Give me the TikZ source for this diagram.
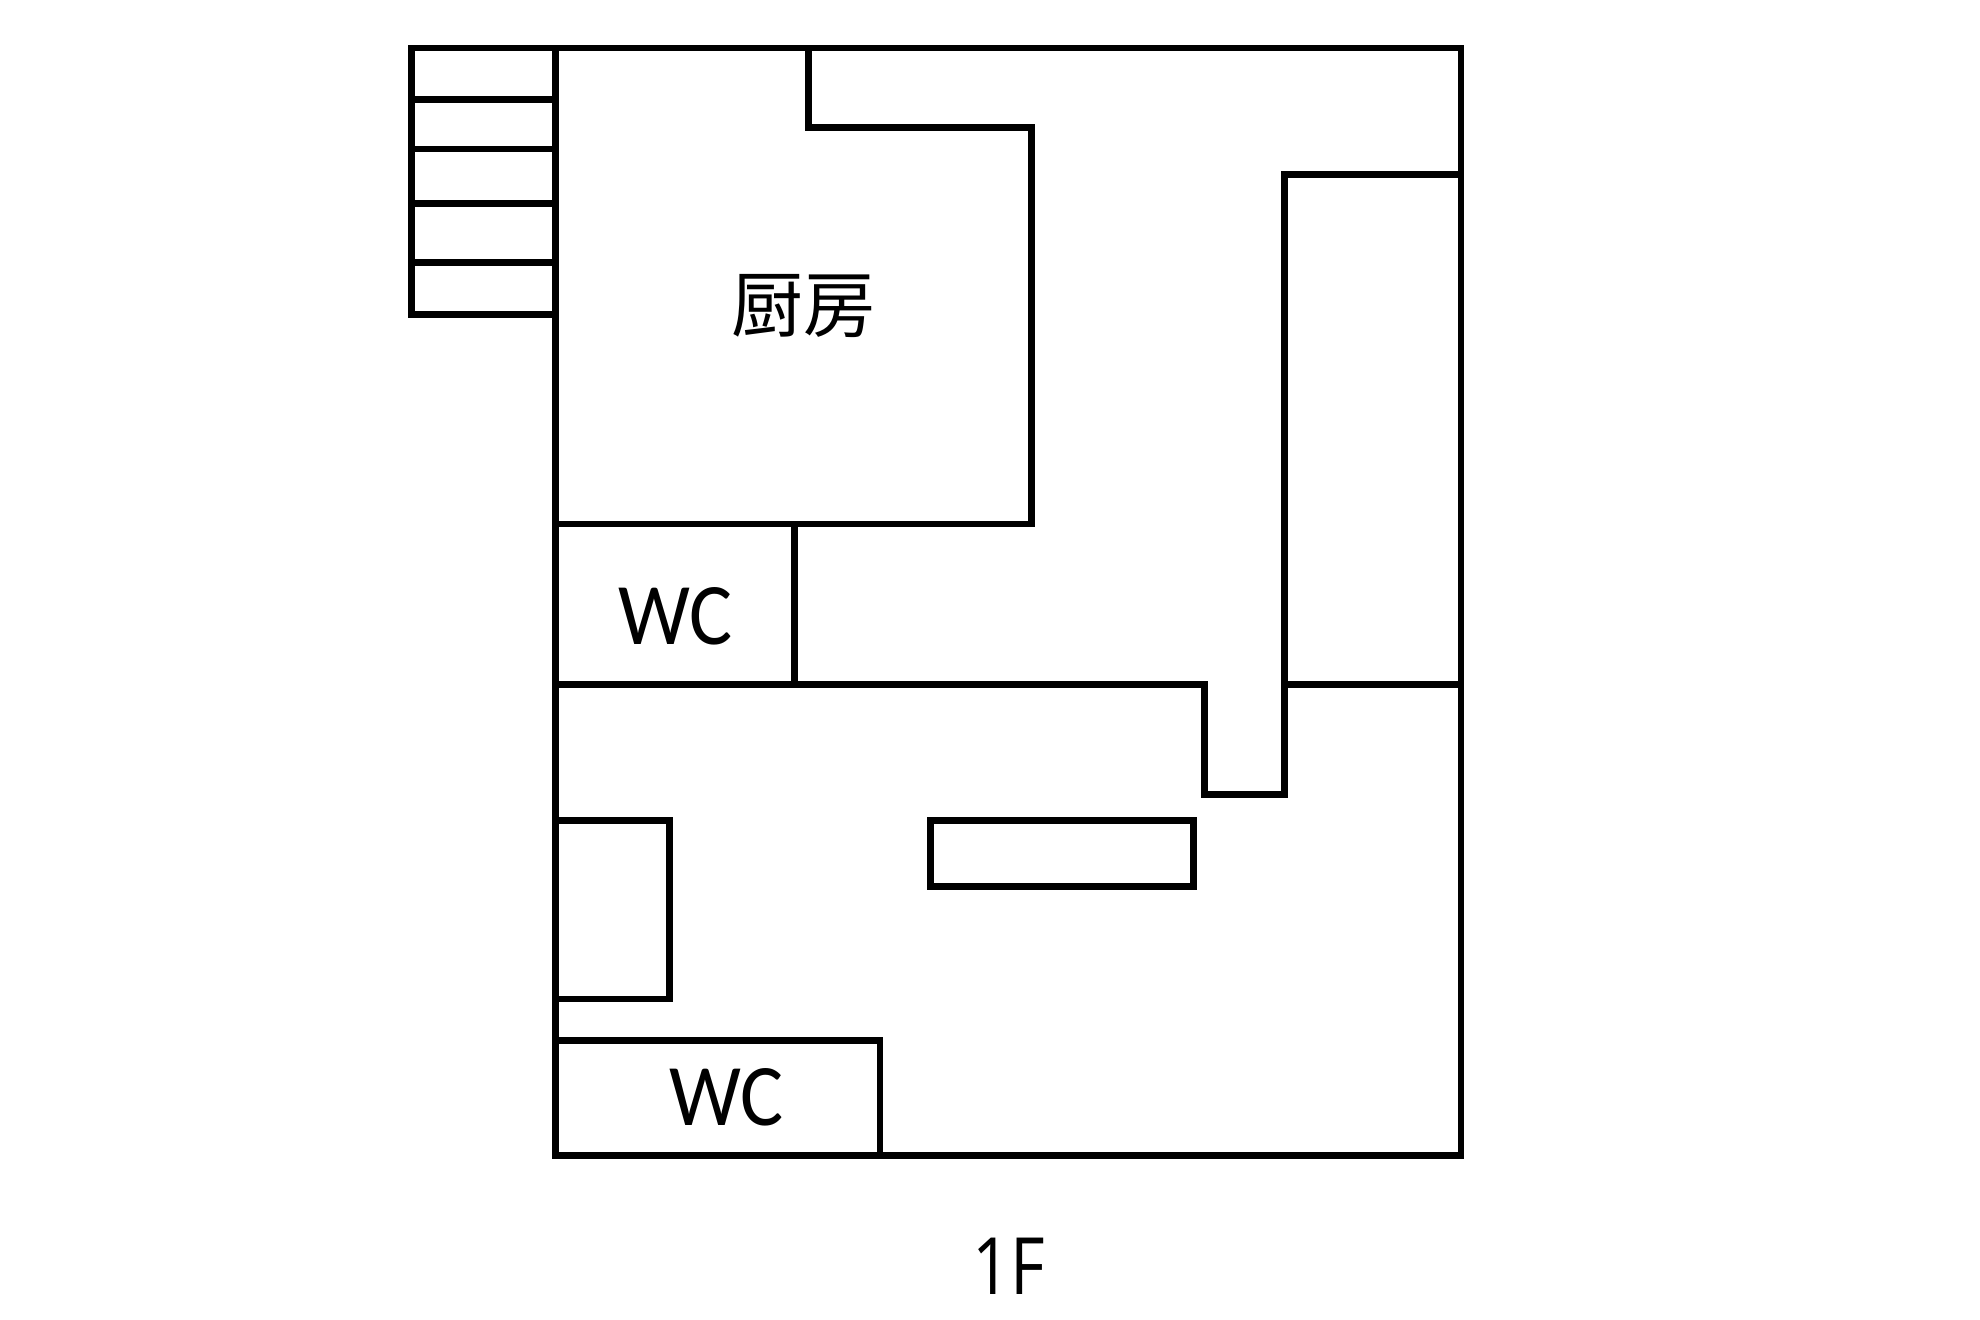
\documentclass[tikz,border=0pt]{standalone}
\usepackage{fontspec}
\setmainfont{Carlito}
\newfontfamily\cjk{Noto Sans CJK JP}
\newfontfamily\floorfont{Open Sans}
\begin{document}
\begin{tikzpicture}[x=0.012628cm, y=-0.012628cm,
	wall/.style={line width=1.9pt, line cap=rect},
	roomlabel/.style={inner sep=0pt, xscale=0.92, font=\fontsize{25}{25}\selectfont}]
	\useasboundingbox (0, 0) rectangle (1568, 1045.3);

	% outer walls
	\draw[wall] (440, 38) rectangle (1157, 915);

	% stairs
	\draw[wall] (326, 38) -- (440, 38);
	\draw[wall] (326, 79) -- (440, 79);
	\draw[wall] (326, 118) -- (440, 118);
	\draw[wall] (326, 161) -- (440, 161);
	\draw[wall] (326, 208) -- (440, 208);
	\draw[wall] (326, 249) -- (440, 249);
	\draw[wall] (326, 38) -- (326, 249);

	% kitchen
	\draw[wall] (640, 38) -- (640, 101) -- (817, 101) -- (817, 415) -- (440, 415);

	% upper WC and corridor
	\draw[wall] (629, 415) -- (629, 542);
	\draw[wall] (440, 542) -- (954, 542) -- (954, 629) -- (1017, 629) -- (1017, 138) -- (1157, 138);
	\draw[wall] (1017, 542) -- (1157, 542);

	% counter, alcove, lower WC
	\draw[wall] (737, 650) rectangle (945, 702);
	\draw[wall] (440, 650) -- (530, 650) -- (530, 791) -- (440, 791);
	\draw[wall] (440, 824) -- (697, 824) -- (697, 915);

	\node[roomlabel, xscale=1.087, font=\cjk\fontsize{20.5}{20.5}\selectfont] (kitchen) at (636, 242) {厨房};
	\node[roomlabel] (wcupper) at (535, 488) {WC};
	\node[roomlabel] (wclower) at (575, 869) {WC};
	\node[roomlabel, xscale=0.92, font=\floorfont\fontsize{22.5}{22.5}\selectfont] (floor) at (799, 1003) {1F};
\end{tikzpicture}
\end{document}
